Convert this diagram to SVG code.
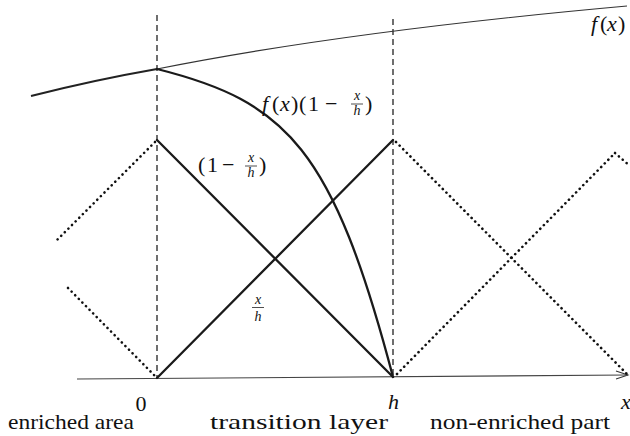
<svg xmlns="http://www.w3.org/2000/svg" width="630" height="436" viewBox="0 0 630 436">
<defs>
<marker id="arr" markerWidth="16" markerHeight="10" refX="13" refY="5" orient="auto" markerUnits="userSpaceOnUse">
<path d="M1,1 L13,5 L1,9" fill="none" stroke="#333" stroke-width="1"/>
</marker>
<style>
.dash{stroke:#222;stroke-width:1.3;stroke-dasharray:6 4;fill:none}
.solid{stroke:#1a1a1a;stroke-width:2.3;fill:none;stroke-linecap:round}
.dot{stroke:#111;stroke-width:2.6;stroke-dasharray:0.1 5;stroke-linecap:round;fill:none}
.axis{stroke:#444;stroke-width:1.1;fill:none}
.fthin{stroke:#333;stroke-width:1.1;fill:none}
.fthick{stroke:#222;stroke-width:2;fill:none}
.lbl{font-size:22px;font-family:Liberation Serif,Times New Roman,serif}
.m{font-size:22px;font-family:Liberation Serif,Times New Roman,serif}
.i{font-style:italic}
.fr{font-size:14px;font-style:italic;font-family:Liberation Serif,Times New Roman,serif}
</style>
</defs>
<rect width="630" height="436" fill="#fff"/>
<g id="guides">
<line class="dash" x1="157" y1="15" x2="157" y2="378"/>
<line class="dash" x1="393" y1="19" x2="393" y2="377"/>
</g>
<g id="axis">
<line class="axis" x1="77" y1="379" x2="628" y2="375" marker-end="url(#arr)"/>
</g>
<g id="curves">
<path class="fthick" d="M31,96 Q94,80 157,69"/>
<path class="fthin" d="M157,69 C307,39 477,19.5 627,6"/>
<path class="solid" d="M157,69 C287,101.5 333,149 393,377"/>
<line class="solid" x1="157" y1="140" x2="393" y2="377"/>
<line class="solid" x1="157" y1="378" x2="393" y2="140"/>
</g>
<g id="dotted">
<line class="dot" x1="155" y1="142" x2="57" y2="240"/>
<line class="dot" x1="68" y1="288" x2="155" y2="376"/>
<line class="dot" x1="396" y1="142" x2="628" y2="375"/>
<line class="dot" x1="397" y1="374" x2="615" y2="153"/>
<line class="dot" x1="615" y1="153" x2="630" y2="166"/>
</g>
<g id="labels" fill="#111">
<text class="m" y="31"><tspan class="i" x="591">f</tspan><tspan x="600">(</tspan><tspan class="i" x="607">x</tspan><tspan x="618">)</tspan></text>
<text class="m" y="111"><tspan class="i" x="262">f</tspan><tspan x="272">(</tspan><tspan class="i" x="280">x</tspan><tspan x="291">)</tspan><tspan x="299">(</tspan><tspan x="308">1</tspan><tspan x="325">−</tspan><tspan x="365">)</tspan></text>
<text class="fr" x="357" y="100" text-anchor="middle">x</text>
<line x1="351" y1="104" x2="363" y2="104" stroke="#222" stroke-width="0.8"/>
<text class="fr" x="357" y="115" text-anchor="middle">h</text>
<text class="m" y="172"><tspan x="198">(</tspan><tspan x="207">1</tspan><tspan x="222">−</tspan><tspan x="259">)</tspan></text>
<text class="fr" x="251" y="162" text-anchor="middle">x</text>
<line x1="245" y1="166" x2="257" y2="166" stroke="#222" stroke-width="0.8"/>
<text class="fr" x="251" y="177" text-anchor="middle">h</text>
<text class="fr" x="258" y="304" text-anchor="middle">x</text>
<line x1="252" y1="307.5" x2="264" y2="307.5" stroke="#222" stroke-width="0.8"/>
<text class="fr" x="258" y="321" text-anchor="middle">h</text>
<text class="lbl" x="141" y="411" text-anchor="middle">0</text>
<text class="lbl i" x="388" y="409">h</text>
<text class="lbl i" x="621" y="409">x</text>
<text class="lbl" x="8" y="429" textLength="126" lengthAdjust="spacingAndGlyphs">enriched area</text>
<text class="lbl" x="210" y="429" textLength="178" lengthAdjust="spacingAndGlyphs">transition layer</text>
<text class="lbl" x="430" y="429" textLength="180" lengthAdjust="spacingAndGlyphs">non-enriched part</text>
</g>
</svg>
